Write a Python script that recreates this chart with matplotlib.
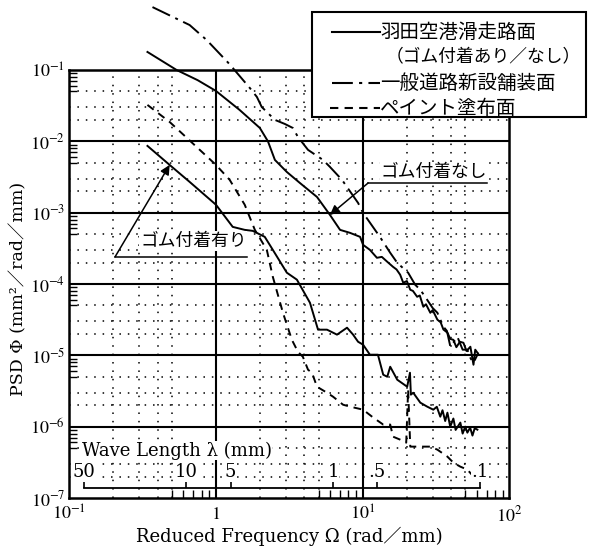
import numpy as np
import matplotlib
matplotlib.use("Agg")
import matplotlib.pyplot as plt
from matplotlib.lines import Line2D
from matplotlib.patches import Rectangle
from matplotlib.ticker import FixedLocator, FixedFormatter, NullFormatter

# ---------------- data ----------------
# Haneda runway surface, rubber removed (upper solid curve)
omega_no_rubber = [0.341, 0.539, 0.75, 1.0, 1.45, 1.99, 2.26, 2.52, 3.04, 3.73, 4.88, 5.98,
                   7.01, 8.20, 9.6, 10.06, 11.2, 12.5, 13.5, 14.7, 16.1, 17.0, 18.0, 18.9,
                   20.0, 21.1, 22.0, 23.5, 24.5, 25.9, 27.0, 28.9, 30.0, 32.3, 34.0, 35.5,
                   37.8, 39.5, 41.5, 43.5, 46.0, 48.6, 51.0, 54.2, 56.9, 58.5, 60.5]
psd_no_rubber = [0.179, 0.100, 0.072, 0.0508, 0.0275, 0.0154, 0.0100, 5.49e-3, 3.72e-3, 2.61e-3, 1.66e-3, 9.31e-4,
                 5.74e-4, 5.21e-4, 4.58e-4, 3.54e-4, 3.01e-4, 2.33e-4, 2.4e-4, 2.05e-4, 1.74e-4, 1.6e-4, 1.35e-4, 1.04e-4,
                 1.1e-4, 8.3e-5, 8.0e-5, 6.62e-5, 6.9e-5, 4.8e-5, 5.2e-5, 3.95e-5, 4.3e-5, 3.16e-5, 2.9e-5, 2.3e-5,
                 2.08e-5, 1.7e-5, 1.65e-5, 1.3e-5, 1.55e-5, 1.5e-5, 1.15e-5, 1.32e-5, 7.38e-6, 1.2e-5, 1.09e-5]

# Haneda runway surface with rubber deposits (lower solid curve)
omega_rubber = [0.341, 0.483, 0.661, 1.0, 1.30, 1.57, 1.78, 2.15, 2.44, 3.04, 3.56, 4.37,
                4.96, 5.71, 6.68, 7.82, 8.6, 9.30, 10.06, 11.2, 12.7, 13.8, 14.7, 15.4,
                17.2, 20.1, 21.0, 21.3, 22.1, 24.7, 27.5, 30.3, 32.0, 33.8, 35.0, 36.5,
                37.8, 39.5, 41.5, 43.0, 46.3, 48.0, 50.0, 51.7, 54.0, 56.0, 58.0, 60.5]
psd_rubber = [8.63e-3, 4.67e-3, 2.70e-3, 1.29e-3, 6.32e-4, 5.74e-4, 5.56e-4, 4.58e-4, 3.01e-4, 1.44e-4, 1.15e-4, 5.46e-5,
              2.29e-5, 2.29e-5, 1.95e-5, 2.44e-5, 1.95e-5, 1.55e-5, 1.41e-5, 1.02e-5, 1.02e-5, 5.35e-6, 5.01e-6, 6.92e-6,
              4.55e-6, 3.63e-6, 5.7e-6, 2.81e-6, 2.99e-6, 2.17e-6, 1.91e-6, 1.73e-6, 1.9e-6, 1.38e-6, 1.7e-6, 1.2e-6,
              1.57e-6, 1.0e-6, 1.3e-6, 9.0e-7, 1.14e-6, 8.0e-7, 1.0e-6, 8.24e-7, 9.7e-7, 7.5e-7, 9.5e-7, 9.08e-7]

# Newly paved public road (dash-dot curve)
omega_road = [0.369, 0.661, 0.864, 1.20, 1.30, 1.70, 1.90, 2.05, 2.33, 2.52, 2.95, 3.34,
              3.62, 4.24, 5.36, 5.98, 7.23, 9.30, 10.06, 13.1, 15.4, 17.2, 20.4, 22.8,
              24.7, 27.5, 30.0, 32.3, 35.5, 37.5, 39.6, 44.2, 48.0, 51.7, 54.5, 56.9, 61.5]
psd_road = [0.762, 0.427, 0.263, 0.129, 0.107, 0.0560, 0.0419, 0.0303, 0.0234, 0.0200, 0.0175, 0.0154,
            0.0115, 7.59e-3, 5.49e-3, 4.38e-3, 2.88e-3, 1.37e-3, 9.93e-4, 4.58e-4, 2.74e-4, 1.98e-4, 1.44e-4, 9.75e-5,
            8.3e-5, 6.01e-5, 4.6e-5, 3.95e-5, 2.52e-5, 2.2e-5, 1.32e-5, 1.82e-5, 1.2e-5, 1.20e-5, 9.0e-6, 7.87e-6, 1.09e-5]

# Painted surface (dashed curve)
omega_paint = [0.341, 0.483, 1.0, 1.24, 1.57, 1.84, 2.22, 2.44, 2.86, 3.29, 3.62, 3.91,
               4.24, 4.51, 4.88, 5.71, 6.28, 7.35, 8.20, 10.06, 11.8, 13.8, 15.4, 16.1,
               18.0, 19.8, 20.4, 21.1, 24.7, 28.9, 32.3, 37.8, 41.5, 46.3, 51.7, 56.9]
psd_paint = [0.0324, 0.0187, 4.67e-3, 2.88e-3, 1.29e-3, 5.74e-4, 3.01e-4, 1.26e-4, 3.95e-5, 1.65e-5, 1.12e-5, 9.55e-6,
             6.28e-6, 5.7e-6, 3.63e-6, 2.99e-6, 2.63e-6, 2.03e-6, 1.91e-6, 1.73e-6, 1.34e-6, 1.07e-6, 1.07e-6, 7.24e-7,
             6.58e-7, 5.97e-7, 3.3e-6, 5.25e-7, 5.25e-7, 5.25e-7, 4.76e-7, 3.80e-7, 3.13e-7, 2.75e-7, 2.5e-7, 2.0e-7]

# wavelength scale (mm), drawn as lambda = 2*pi / Omega
wave_lengths = [50, 10, 5, 1, 0.5, 0.1]
wave_labels = ["50", "10", "5", "1", ".5", ".1"]

x_ticks = [0.1, 1, 10, 100]
x_tick_labels = [r"$10^{-1}$", r"$1$", r"$10^{1}$", r"$10^{2}$"]
y_ticks = [1e-7, 1e-6, 1e-5, 1e-4, 1e-3, 1e-2, 1e-1]
y_tick_labels = [r"$10^{-7}$", r"$10^{-6}$", r"$10^{-5}$", r"$10^{-4}$",
                 r"$10^{-3}$", r"$10^{-2}$", r"$10^{-1}$"]

legend_labels = ["羽田空港滑走路面", "（ゴム付着あり／なし）", "一般道路新設舗装面", "ペイント塗布面"]

# ---------------- styling ----------------
plt.rcParams['mathtext.fontset'] = 'stix'
JP = ['Noto Sans CJK JP', 'DejaVu Sans']
SERIF = ['DejaVu Serif', 'Noto Sans CJK JP']
DASHDOT = (0, (10, 3, 1.5, 3))
DASHED = (0, (4, 3))
DOTTED = (0, (1, 4.5))

W, H = 589, 547
fig = plt.figure(figsize=(W / 100, H / 100), dpi=100)
fig.patch.set_facecolor('white')


def fx(px):
    return px / W


def fy(py):
    return 1 - py / H


ax = fig.add_axes([fx(69.3), fy(498), fx(509.4) - fx(69.3), fy(70) - fy(498)])
ax.set_xscale('log')
ax.set_yscale('log')
ax.set_xlim(0.1, 100)
ax.set_ylim(1e-7, 1e-1)

# grid: solid at decades, dotted at 2,3,(4),5
for d in range(-1, 2):
    for s in (2, 3, 4, 5):
        ax.axvline(s * 10.0 ** d, color='k', lw=1.1, ls=DOTTED, zorder=1)
    if d > -1:
        ax.axvline(10.0 ** d, color='k', lw=1.5, zorder=1)
for d in range(-7, -1):
    for s in (2, 3, 5):
        ax.axhline(s * 10.0 ** d, color='k', lw=1.1, ls=DOTTED, zorder=1)
    if d > -7:
        ax.axhline(10.0 ** d, color='k', lw=1.5, zorder=1)

# ticks
ax.xaxis.set_major_locator(FixedLocator(x_ticks))
ax.xaxis.set_major_formatter(FixedFormatter(x_tick_labels))
ax.yaxis.set_major_locator(FixedLocator(y_ticks))
ax.yaxis.set_major_formatter(FixedFormatter(y_tick_labels))
ax.xaxis.set_minor_locator(FixedLocator([s * 10.0 ** d for d in range(-1, 2) for s in (5, 6, 7, 8, 9)]))
ax.yaxis.set_minor_locator(FixedLocator([s * 10.0 ** d for d in range(-7, -1) for s in (5, 6, 7, 8, 9)]))
ax.xaxis.set_minor_formatter(NullFormatter())
ax.yaxis.set_minor_formatter(NullFormatter())
ax.tick_params(which='major', length=0, labelsize=13, pad=3)
ax.tick_params(axis='x', which='major', pad=5)
ax.tick_params(which='minor', direction='in', length=6, width=1.0)
for sp in ax.spines.values():
    sp.set_linewidth(1.8)

# curves
ax.plot(omega_no_rubber, psd_no_rubber, color='k', lw=1.4, clip_on=False, zorder=3)
ax.plot(omega_rubber, psd_rubber, color='k', lw=1.4, clip_on=False, zorder=3)
ax.plot(omega_road, psd_road, color='k', lw=1.4, ls=DASHDOT, clip_on=False, zorder=3)
ax.plot(omega_paint, psd_paint, color='k', lw=1.4, ls=DASHED, clip_on=False, zorder=3)

# wavelength scale inside the axes
wave_omega = [2 * np.pi / lam for lam in wave_lengths]
y_wave = 1.4e-7
ax.plot([wave_omega[0], wave_omega[-1]], [y_wave, y_wave], color='k', lw=1.3, zorder=4)
ax.vlines(wave_omega, y_wave, y_wave * 1.2, color='k', lw=1.2, zorder=4)
for om, lab in zip(wave_omega, wave_labels):
    ax.text(om, 2.35e-7, lab, ha='center', va='center', fontsize=13, family=SERIF,
            zorder=5, bbox=dict(fc='white', ec='none', pad=0.3))
ax.text(wave_omega[0] * 0.97, 4.6e-7, "Wave Length λ (mm)", ha='left', va='center',
        fontsize=13, family=SERIF, zorder=5, bbox=dict(fc='white', ec='none', pad=0.3))

# annotations
def callout(text, tip, x0, x1, y_line, text_x, text_y):
    ax.plot([x0, x1], [y_line, y_line], color='k', lw=1.1, zorder=5)
    ax.annotate('', xy=tip, xytext=(x0, y_line),
                arrowprops=dict(arrowstyle='-|>', color='k', lw=1.1,
                                mutation_scale=14, shrinkA=0, shrinkB=0), zorder=5)
    ax.text(text_x, text_y, text, ha='center', va='center', fontsize=12.8, family=JP,
            zorder=5, bbox=dict(fc='white', ec='none', pad=0.5))


callout("ゴム付着有り", (omega_rubber[1], psd_rubber[1]), 0.205, 1.63, 2.40e-4, 0.70, 4.0e-4)
callout("ゴム付着なし", (omega_no_rubber[11], psd_no_rubber[11]), 10.9, 70.3, 2.61e-3, 30.5, 3.7e-3)

# axis labels
ax.set_xlabel("Reduced Frequency Ω (rad／mm)", fontsize=13, family=SERIF, labelpad=1)
fig.text(fx(19), fy(289), "PSD Φ (mm²／rad／mm)", rotation=90, ha='center', va='center',
         fontsize=12.5, family=SERIF)

# legend box
fig.add_artist(Rectangle((fx(312), fy(117)), fx(586) - fx(312), fy(12) - fy(117),
                         transform=fig.transFigure, fc='white', ec='k', lw=1.5, zorder=6))
rows = [32, 57, 83, 108]
styles = ['-', None, DASHDOT, DASHED]
starts = [332, None, 332, 330]
for py, st, x0 in zip(rows, styles, starts):
    if st is None:
        continue
    fig.add_artist(Line2D([fx(x0), fx(380)], [fy(py), fy(py)], transform=fig.transFigure,
                          color='k', lw=1.5, ls=st, zorder=7))
text_x = [380, 386, 380, 380]
text_size = [14, 12.8, 14, 14]
for py, x0, lab, fs in zip(rows, text_x, legend_labels, text_size):
    fig.text(fx(x0), fy(py), lab, ha='left', va='center', fontsize=fs, family=JP, zorder=7)

fig.savefig("out.png", dpi=100, facecolor='white')
